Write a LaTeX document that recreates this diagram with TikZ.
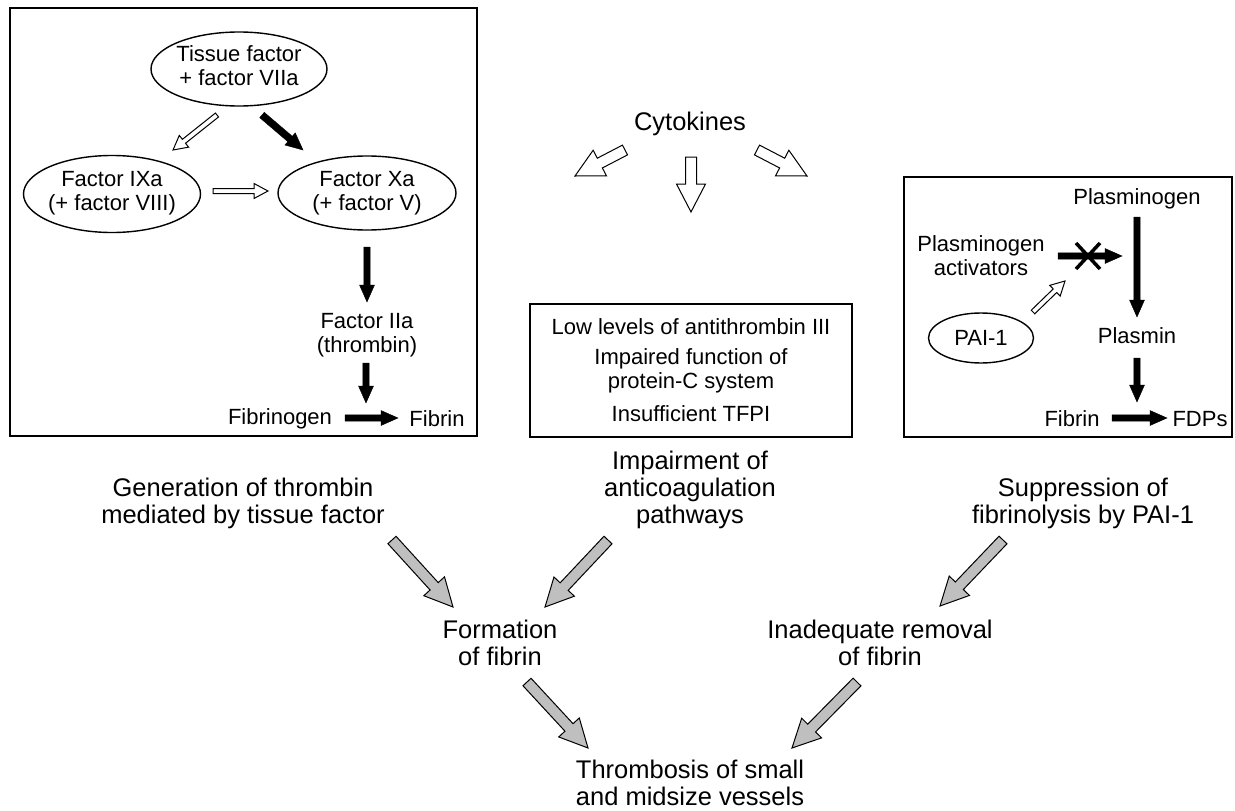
\documentclass[tikz,border=0pt]{standalone}
\usepackage{fontspec}
\setmainfont{Liberation Sans}
\usetikzlibrary{calc,shapes.geometric}
\newcommand\blockarrow[6]{%
  \coordinate (baH) at ($(#3)!#6!(#2)$);
  \draw[#1] ($(#2)!#4!90:(#3)$) -- ($(baH)!#4!90:(#3)$) -- ($(baH)!#5!90:(#3)$) -- (#3) -- ($(baH)!#5!-90:(#3)$) -- ($(baH)!#4!-90:(#3)$) -- ($(#2)!#4!-90:(#3)$) -- cycle;
}
\tikzset{
  openarr/.style={draw=black, fill=white, line width=1pt, line join=miter},
  blackarr/.style={draw=black, fill=black, line width=0.4pt},
  grayarr/.style={draw=black, fill=black!25, line width=1pt, line join=miter},
  frame/.style={draw, line width=1.8pt},
  oval/.style={ellipse, draw, line width=1.4pt, inner sep=0pt},
  small/.style={font=\fontsize{22}{24}\selectfont, align=center, inner sep=0pt},
  big/.style={font=\fontsize{25.5}{27}\selectfont, align=center, inner sep=0pt},
}
\begin{document}
\begin{tikzpicture}[x=1pt,y=-1pt]
\useasboundingbox (0,0) rectangle (1235,811);
% ---------- left box
\draw[frame] (10,8) rectangle (477,436);
\node[oval, minimum width=176, minimum height=74] (tf) at (239,69) {};
\node[small] (tft) at (239,66) {Tissue factor\\+ factor VIIa};
\node[oval, minimum width=177, minimum height=77] (ix) at (112,194) {};
\node[small] (ixt) at (112,193) {Factor IXa\\(+ factor VIII)};
\node[oval, minimum width=178, minimum height=74] (xa) at (367,193) {};
\node[small] (xat) at (367,193) {Factor Xa\\(+ factor V)};
\node[small] (iia) at (367,335) {Factor IIa\\(thrombin)};
\node[small] (fbg) at (280,419) {Fibrinogen};
\node[small] (fbn) at (437,419) {Fibrin};
\coordinate (a1s) at (217,115); \coordinate (a1e) at (173,150);
\coordinate (a2s) at (262,115); \coordinate (a2e) at (303,150);
\coordinate (a3s) at (213,191); \coordinate (a3e) at (268,191);
\coordinate (a4s) at (367,247); \coordinate (a4e) at (367,302);
\coordinate (a5s) at (366,363); \coordinate (a5e) at (366,403);
\coordinate (a6s) at (345,418); \coordinate (a6e) at (398,418);
\blockarrow{openarr}{a1s}{a1e}{2.5pt}{7.5pt}{14pt}
\blockarrow{blackarr}{a2s}{a2e}{3.5pt}{8pt}{17pt}
\blockarrow{openarr}{a3s}{a3e}{2.5pt}{7.5pt}{14pt}
\blockarrow{blackarr}{a4s}{a4e}{3.2pt}{7.5pt}{17pt}
\blockarrow{blackarr}{a5s}{a5e}{3.2pt}{7.5pt}{17pt}
\blockarrow{blackarr}{a6s}{a6e}{3.2pt}{7.5pt}{17pt}
% ---------- cytokines
\node[big] (cyt) at (690,124) {Cytokines};
\coordinate (c1s) at (625,150); \coordinate (c1e) at (575,176);
\coordinate (c2s) at (691,157); \coordinate (c2e) at (691,212);
\coordinate (c3s) at (757,150); \coordinate (c3e) at (807,176);
\blockarrow{openarr}{c1s}{c1e}{5.5pt}{14.5pt}{28pt}
\blockarrow{openarr}{c2s}{c2e}{5.5pt}{14.5pt}{28pt}
\blockarrow{openarr}{c3s}{c3e}{5.5pt}{14.5pt}{28pt}
% ---------- middle box
\draw[frame] (530,304) rectangle (852,437);
\node[small] (m1) at (691,327) {Low levels of antithrombin III};
\node[small] (m2) at (691,371) {Impaired function of\\protein-C system};
\node[small] (m3) at (691,414) {Insufficient TFPI};
% ---------- right box
\draw[frame] (904,177) rectangle (1232,437);
\node[small] (plg) at (1137,199) {Plasminogen};
\node[small] (pla) at (981,256) {Plasminogen\\activators};
\node[small] (pls) at (1137,336) {Plasmin};
\node[small] (fb2) at (1072,419) {Fibrin};
\node[small] (fdp) at (1200,419) {FDPs};
\node[oval, minimum width=105, minimum height=50] (pai) at (981,338) {};
\node[small] (pait) at (981,338) {PAI-1};
\coordinate (r1s) at (1137,217); \coordinate (r1e) at (1137,317);
\coordinate (r2s) at (1137,358); \coordinate (r2e) at (1137,402);
\coordinate (r3s) at (1112,418); \coordinate (r3e) at (1167,418);
\coordinate (r4s) at (1058,256); \coordinate (r4e) at (1122,256);
\coordinate (r5s) at (1033,312); \coordinate (r5e) at (1065,281);
\blockarrow{blackarr}{r1s}{r1e}{3.2pt}{7.5pt}{17pt}
\blockarrow{blackarr}{r2s}{r2e}{3.2pt}{7.5pt}{17pt}
\blockarrow{blackarr}{r3s}{r3e}{3.2pt}{7.5pt}{17pt}
\blockarrow{blackarr}{r4s}{r4e}{3.2pt}{7.5pt}{17pt}
\blockarrow{openarr}{r5s}{r5e}{2.5pt}{7.5pt}{14pt}
\coordinate (xc) at (1088,256);
\draw[line width=3.5pt] ($(xc)+(-12,-13)$) -- ($(xc)+(12,13)$) ($(xc)+(12,-13)$) -- ($(xc)+(-12,13)$);
% ---------- labels
\node[big] (gen) at (243,503) {Generation of thrombin\\mediated by tissue factor};
\node[big] (imp) at (690,490) {Impairment of\\anticoagulation\\pathways};
\node[big] (sup) at (1083,503) {Suppression of\\fibrinolysis by PAI-1};
\node[big] (form) at (500,643) {Formation\\of fibrin};
\node[big] (inad) at (880,643) {Inadequate removal\\of fibrin};
\node[big] (thr) at (690,783) {Thrombosis of small\\and midsize vessels};
% ---------- gray arrows
\coordinate (g1s) at (392,540); \coordinate (g1e) at (453,607);
\coordinate (g2s) at (608,540); \coordinate (g2e) at (545,607);
\coordinate (g3s) at (1003,540); \coordinate (g3e) at (940,606);
\coordinate (g4s) at (527,682); \coordinate (g4e) at (588,748);
\coordinate (g5s) at (857,682); \coordinate (g5e) at (792,748);
\blockarrow{grayarr}{g1s}{g1e}{5.5pt}{14pt}{28pt}
\blockarrow{grayarr}{g2s}{g2e}{5.5pt}{14pt}{28pt}
\blockarrow{grayarr}{g3s}{g3e}{5.5pt}{14pt}{28pt}
\blockarrow{grayarr}{g4s}{g4e}{5.5pt}{14pt}{28pt}
\blockarrow{grayarr}{g5s}{g5e}{5.5pt}{14pt}{28pt}
\end{tikzpicture}
\end{document}
